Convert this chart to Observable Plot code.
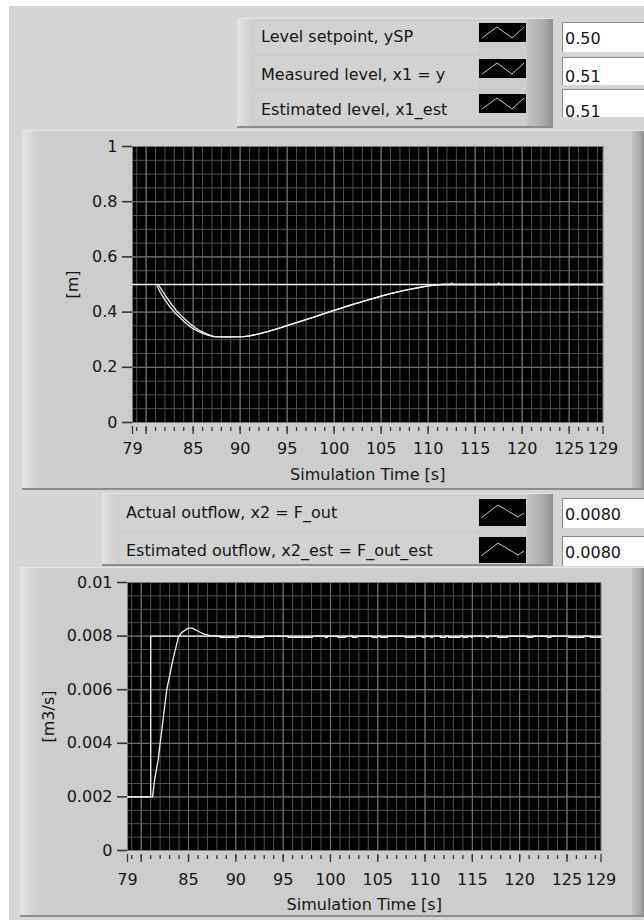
<!DOCTYPE html>
<html><head><meta charset="utf-8">
<script src="https://cdn.jsdelivr.net/npm/d3@7"></script>
<script src="https://cdn.jsdelivr.net/npm/@observablehq/plot@0.6"></script>
<style>
body{margin:0;background:#fff;width:644px;height:920px;overflow:hidden;position:relative;font-family:"DejaVu Sans",sans-serif;color:#151515;}
.a{position:absolute;}
.panel{background:#cdcdcd;border-top:1px solid #e6e6e6;border-bottom:2px solid #8c8c8c;box-sizing:border-box;}
.bevL{background:linear-gradient(to right,#e3e3e3,#d4d4d4 60%,#cdcdcd);}
.bevR{background:linear-gradient(to right,#c4c4c4,#a8a8a8 70%,#8e8e8e);}
.row{background:#d2d2d2;font-size:16px;line-height:1;white-space:nowrap;}
.row span{position:absolute;left:6px;}
.sw{background:#000;}
.val{background:#fff;border-top:1px solid #8a8a8a;border-left:1px solid #8a8a8a;box-sizing:border-box;font-size:16px;}
.val span{position:absolute;left:2px;}
</style></head>
<body>
<div id="root"></div>
<script>
// ---------- data ----------
const xDomain = [78.55, 128.6];
const xLabelTicks = [78.55, 85, 90, 95, 100, 105, 110, 115, 120, 125, 128.6];
const xMajorTicks = [78.55, 80, 85, 90, 95, 100, 105, 110, 115, 120, 125, 128.6];

const levelNames = ["Level setpoint, ySP", "Measured level, x1 = y", "Estimated level, x1_est"];
const levelValues = ["0.50", "0.51", "0.51"];
const levelTicks = [0, 0.2, 0.4, 0.6, 0.8, 1];

const spTime = [78.55, 128.6];
const spLevel = [0.5, 0.5];

const x1Time = [81.1, 81.5, 82.0, 82.5, 83.0, 83.5, 84.0, 84.5, 85.0, 85.5, 86.0, 86.5, 87.2, 88.0, 89.0, 90.4, 91.0, 92.0, 93.0, 94.0, 95.0, 96.0, 97.0, 98.0, 99.0, 100.0, 101.0, 102.0, 103.0, 104.0, 105.0, 106.0, 107.0, 108.0, 109.0, 110.0, 111.0, 111.5, 112.4, 112.5, 112.6, 117.4, 117.5, 117.6, 128.6];
const x1Level = [0.500, 0.472, 0.445, 0.420, 0.400, 0.383, 0.367, 0.352, 0.340, 0.331, 0.323, 0.317, 0.311, 0.310, 0.310, 0.311, 0.314, 0.321, 0.330, 0.340, 0.351, 0.362, 0.373, 0.384, 0.395, 0.406, 0.417, 0.428, 0.438, 0.448, 0.458, 0.467, 0.475, 0.482, 0.489, 0.495, 0.499, 0.500, 0.500, 0.505, 0.500, 0.500, 0.506, 0.500, 0.500];

const x1EstTime = [81.3, 81.7, 82.2, 82.7, 83.2, 83.7, 84.2, 84.7, 85.2, 85.7, 86.2, 86.7, 87.2, 88.0, 89.0, 90.4, 91.0, 92.0, 93.0, 94.0, 95.0, 96.0, 97.0, 98.0, 99.0, 100.0, 101.0, 102.0, 103.0, 104.0, 105.0, 106.0, 107.0, 108.0, 109.0, 110.0, 111.0, 111.5, 128.6];
const x1EstLevel = [0.500, 0.478, 0.452, 0.428, 0.406, 0.388, 0.372, 0.357, 0.344, 0.333, 0.325, 0.318, 0.311, 0.310, 0.310, 0.311, 0.314, 0.321, 0.330, 0.340, 0.351, 0.362, 0.373, 0.384, 0.395, 0.406, 0.417, 0.428, 0.438, 0.448, 0.458, 0.467, 0.475, 0.482, 0.489, 0.495, 0.499, 0.500, 0.500];

const flowNames = ["Actual outflow, x2 = F_out", "Estimated outflow, x2_est = F_out_est"];
const flowValues = ["0.0080", "0.0080"];
const flowTicks = [0, 0.002, 0.004, 0.006, 0.008, 0.01];

const fOutTime = [78.55, 81.0, 81.0, 128.6];
const fOut = [0.002, 0.002, 0.008, 0.008];

const fEstTime = [78.55, 81.2, 81.4, 81.8, 82.0, 82.7, 83.4, 83.93, 84.29, 84.99, 85.4, 85.88, 86.57, 87.28, 88.34];
const fEst = [0.002, 0.002, 0.0026, 0.0034, 0.0040, 0.0060, 0.0072, 0.00796, 0.00814, 0.0083, 0.0083, 0.00821, 0.00808, 0.00802, 0.0080];
// short intervals where the estimate sits just under 0.008
const fEstDips = [[88.34, 90.25], [91.5, 92.9], [95.5, 98.1], [99.45, 99.66], [100.8, 101.6], [102.3, 102.8], [104.4, 105.0], [105.3, 106.0], [107.9, 109.0], [109.7, 110.0], [110.6, 110.8], [111.6, 112.2], [112.5, 113.7], [114.0, 114.5], [114.9, 115.0], [116.5, 116.7], [117.7, 118.7], [120.8, 121.4], [122.9, 123.3], [125.2, 126.8], [127.5, 128.6]];
const fDipValue = 0.007955;
const fSettled = 0.008;

// ---------- tables ----------
const zip = (t, v) => t.map((d, i) => ({t: d, v: v[i]}));
const spData = zip(spTime, spLevel);
const x1Data = zip(x1Time, x1Level);
const x1EstData = zip(x1EstTime, x1EstLevel);
const fOutData = zip(fOutTime, fOut);
const fEstData = zip(fEstTime, fEst);
for (const [a, b] of fEstDips) {
  fEstData.push({t: a, v: fSettled}, {t: a, v: fDipValue}, {t: b, v: fDipValue}, {t: b, v: fSettled});
}

const minorX = d3.range(79, 129, 1);
const gridMajorX = [80, 85, 90, 95, 100, 105, 110, 115, 120, 125];

const root = document.getElementById("root");
function div(cls, l, t, w, h, html) {
  const d = document.createElement("div");
  d.className = "a " + cls;
  Object.assign(d.style, {left: l + "px", top: t + "px", width: w + "px", height: h + "px"});
  if (html) d.innerHTML = html;
  root.appendChild(d);
  return d;
}
div("", 9, 6, 635, 914, "").style.background = "#d6d6d6";

// chart panels
div("panel", 22, 130, 622, 360);
div("bevL", 22, 131, 21, 357);
div("bevR", 632, 131, 12, 357);
div("panel", 20, 567, 624, 350);
div("bevL", 20, 568, 21, 347);
div("bevR", 632, 568, 12, 347);

// legend panels
function legend(l, t, w, h, rows, names, values, shape) {
  div("panel", l, t, w, h);
  div("bevL", l, t + 1, 18, h - 3);
  div("bevR", 527, t + 1, 26, h - 3);
  rows.forEach((r, i) => {
    div("row", l + 18, r.top, 478 - l - 18, r.h, `<span style="top:${r.text - r.top - 8}px">${names[i]}</span>`);
    div("sw", 479, r.sw, 47, r.swh, `<svg width="47" height="${r.swh}"><polyline points="${shape}" fill="none" stroke="#c8c8c8" stroke-width="1"/></svg>`);
    div("val", 562, r.vt, 82, r.vh, `<span style="top:${r.text - r.vt - 9}px">${values[i]}</span>`);
  });
}
legend(237, 18, 316, 110, [
  {top: 21, h: 33, text: 37, sw: 23, swh: 19, vt: 22, vh: 30},
  {top: 56, h: 33, text: 75, sw: 59, swh: 19, vt: 57, vh: 28},
  {top: 91, h: 33, text: 110, sw: 94, swh: 19, vt: 89, vh: 28}
], levelNames, levelValues, "3,15 18,4 33,15 45,4");
legend(102, 493, 451, 73, [
  {top: 496, h: 34, text: 513, sw: 499, swh: 27, vt: 498, vh: 30},
  {top: 533, h: 31, text: 551, sw: 537, swh: 26, vt: 536, vh: 30}
], flowNames, flowValues, "2,19 19,6 39,18 45,14");

// ---------- charts ----------
const trim = p => d => String(+d.toFixed(p));
function chart({top, height, mt, mb, ml, mr, yDomain, yTicks, yMinor, yFmt, yLabel, yLabelOffset, xPad, xLabelOffset, series}) {
  const p = Plot.plot({
    width: 644, height,
    marginTop: mt, marginBottom: mb, marginLeft: ml, marginRight: mr,
    x: {domain: xDomain},
    y: {domain: yDomain},
    style: {background: "transparent", fontFamily: "DejaVu Sans", fontSize: "16px", color: "#151515", overflow: "visible"},
    marks: [
      Plot.frame({fill: "#000"}),
      Plot.gridX(minorX, {stroke: "#505050", strokeOpacity: 1}),
      Plot.gridY(yMinor, {stroke: "#505050", strokeOpacity: 1}),
      Plot.gridX(gridMajorX, {stroke: "#747474", strokeOpacity: 1}),
      Plot.gridY(yTicks, {stroke: "#747474", strokeOpacity: 1}),
      Plot.frame({stroke: "#7a7a7a"}),
      Plot.axisY(yTicks, {tickFormat: yFmt, tickSize: 10, tickPadding: 5, strokeWidth: 1.6, stroke: "#333",
        label: yLabel, labelAnchor: "center", labelArrow: "none", labelOffset: yLabelOffset}),
      Plot.axisX(xLabelTicks, {tickFormat: d => d.toFixed(0), tickSize: 0, tickPadding: xPad,
        label: "Simulation Time [s]", labelAnchor: "center", labelArrow: "none", labelOffset: xLabelOffset}),
      Plot.axisX(xMajorTicks, {tickFormat: () => "", tickSize: 8, dy: 4, stroke: "#333", strokeWidth: 1.3, label: null}),
      Plot.axisX(minorX, {tickFormat: () => "", tickSize: 4, dy: 5, stroke: "#333", strokeWidth: 1.3, label: null}),
      ...series.map(s => Plot.line(s, {x: "t", y: "v", stroke: "#f2f2f2", strokeWidth: 1.3}))
    ]
  });
  p.style.position = "absolute";
  p.style.left = "0px";
  p.style.top = top + "px";
  p.style.zIndex = "5";
  root.appendChild(p);
}
chart({top: 130, height: 360, mt: 16, mb: 68, ml: 132, mr: 41.5,
  yDomain: [0, 1], yTicks: levelTicks, yMinor: d3.range(0, 1.0001, 0.05), yFmt: trim(2),
  yLabel: "[m]", yLabelOffset: 66, xPad: 20, xLabelOffset: 57, series: [spData, x1Data, x1EstData]});
chart({top: 567, height: 348, mt: 15, mb: 65, ml: 127, mr: 43.5,
  yDomain: [0, 0.01], yTicks: flowTicks, yMinor: d3.range(0, 0.01001, 0.0005), yFmt: trim(4),
  yLabel: "[m3/s]", yLabelOffset: 85, xPad: 23, xLabelOffset: 59, series: [fOutData, fEstData]});
</script>
</body></html>
